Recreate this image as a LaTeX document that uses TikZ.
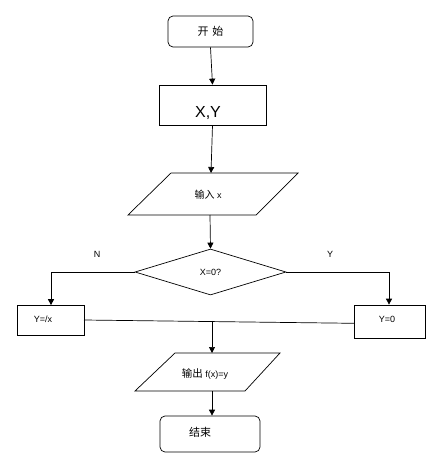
\documentclass[tikz,border=0pt]{standalone}
\usepackage{fontspec}
\setmainfont{Liberation Sans}
\newfontfamily\cjk{Noto Sans CJK SC}
\usetikzlibrary{shapes.geometric,arrows.meta}
\begin{document}
\begin{tikzpicture}[x=1pt,y=-1pt,
  every node/.style={font=\fontsize{9}{11}\selectfont, inner sep=0pt},
  term/.style={draw, rounded corners=5pt, line width=0.7pt},
  procbox/.style={draw, line width=0.7pt},
  iobox/.style={draw, line width=0.7pt},
  decbox/.style={draw, diamond, line width=0.7pt},
  conn/.style={line width=0.7pt, -{Triangle[length=6pt,width=6pt]}},
  plain/.style={line width=0.7pt},
  lbl/.style={font=\fontsize{9}{11}\selectfont}]
\useasboundingbox (0,0) rectangle (445,476);
\node[term, minimum width=85pt, minimum height=31pt] (start) at (210.5,31.5) {\cjk\fontsize{11}{13}\selectfont 开\,\,始};
\node[procbox, minimum width=107pt, minimum height=40pt] (xy) at (212.5,105) {};
\node[font=\fontsize{16}{18}\selectfont] (xyt) at (208,113) {X,Y};
% input parallelogram
\coordinate (inTL) at (171,173);
\coordinate (inTR) at (298,173);
\coordinate (inBR) at (256,215);
\coordinate (inBL) at (128,215);
\draw[iobox] (inTL) -- (inTR) -- (inBR) -- (inBL) -- cycle;
\node (int) at (208,195) {{\cjk\fontsize{10}{12}\selectfont 输入} x};
\node[decbox, minimum width=151pt, minimum height=46pt, aspect=3.3] (dec) at (210.5,272) {X=0?};
\node[procbox, minimum width=67pt, minimum height=30pt] (left) at (50.5,320.5) {};
\node (leftt) at (43,319) {Y=/x};
\node[procbox, minimum width=71pt, minimum height=33pt] (right) at (389.5,321.5) {};
\node (rightt) at (387,319) {Y=0};
% output parallelogram
\coordinate (outTL) at (175,353);
\coordinate (outTR) at (280,353);
\coordinate (outBR) at (245,391);
\coordinate (outBL) at (135,391);
\draw[iobox] (outTL) -- (outTR) -- (outBR) -- (outBL) -- cycle;
\node (outt) at (205,374) {{\cjk\fontsize{10.5}{12}\selectfont 输出} f(x)=y};
\node[term, minimum width=100pt, minimum height=36pt] (end) at (210,434) {};
\node (endt) at (200,432) {\cjk\fontsize{11}{13}\selectfont 结束};
\node[lbl] (nl) at (97,254) {N};
\node[lbl] (yl) at (330,254) {Y};
\coordinate (lj) at (84,320);
\coordinate (rj) at (354,323.3);
\coordinate (mj) at (212,320.9);
\coordinate (lc) at (51,272);
\coordinate (rc) at (389,272);
\coordinate (inN) at (211,173);
\coordinate (inS) at (210,215);
\coordinate (outN) at (212,353);
\coordinate (outS) at (212,391);
\draw[conn] (start.south) -- (xy.north);
\draw[conn] (xy.south) -- (inN);
\draw[conn] (inS) -- (dec.north);
\draw[conn] (dec.west) -- (lc) -- (left.north -| lc);
\draw[conn] (dec.east) -- (rc) -- (right.north -| rc);
\draw[plain] (lj) -- (rj);
\draw[conn] (mj) -- (outN);
\draw[conn] (outS) -- (end.north -| outS);
\end{tikzpicture}
\end{document}
